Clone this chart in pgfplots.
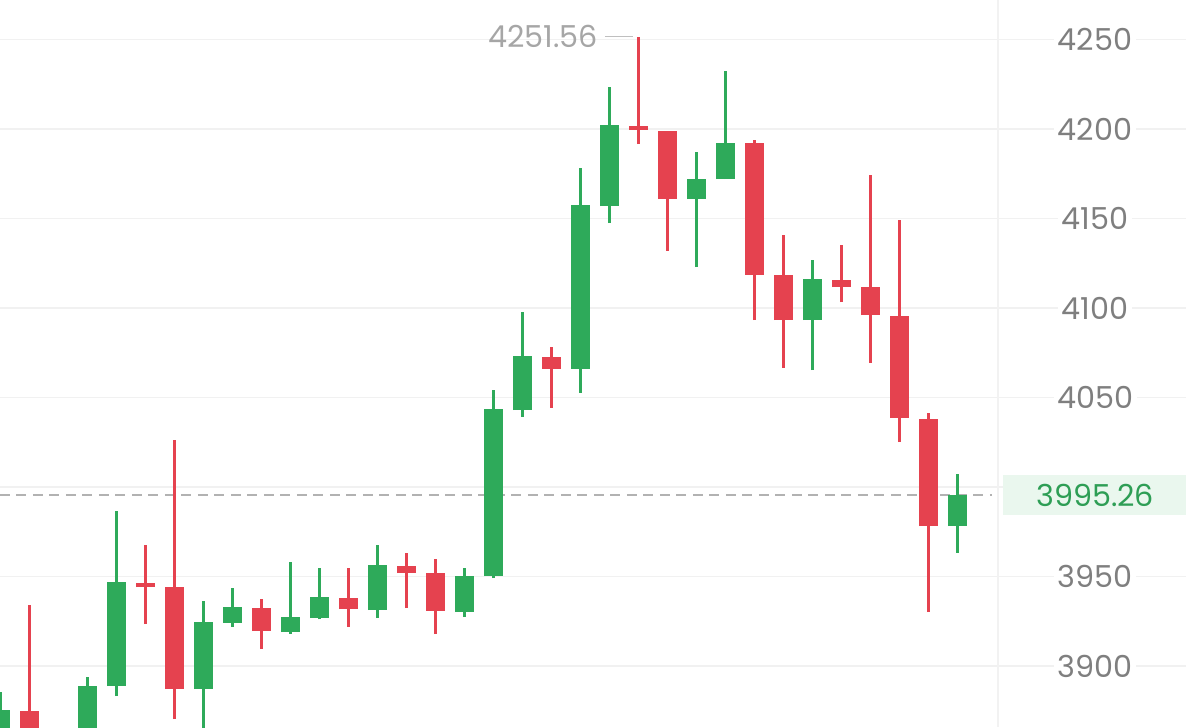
\documentclass[border=0pt]{standalone}
\usepackage{pgfplots}
\pgfplotsset{compat=1.18}
\usepackage{pgfplotstable}
\usepackage{fontspec}
\setmainfont{Poppins}
\definecolor{cUp}{HTML}{2EAA5A}
\definecolor{cDown}{HTML}{E5424F}
\definecolor{cGrid}{HTML}{F1F1F1}
\definecolor{cTick}{HTML}{7F7F7F}
\definecolor{cTagBg}{HTML}{EAF7EE}
\definecolor{cTag}{HTML}{2E9E55}

% candle index, open, high, low, close
\pgfplotstableread{
i  O       H       L       C
0  3850.0  3885.4  3840.0  3875.4
3  3855.0  3893.8  3850.0  3888.8
4  3888.8  3986.6  3883.2  3946.9
7  3887.1  3936.3  3860.0  3924.5
8  3924.0  3943.5  3921.8  3932.9
10 3918.9  3958.1  3918.0  3927.3
11 3926.7  3954.7  3926.0  3938.5
13 3931.2  3967.5  3926.7  3956.4
16 3930.1  3954.7  3927.3  3950.2
17 3950.2  4054.2  3949.1  4043.5
18 4042.9  4097.7  4039.1  4073.1
20 4065.9  4178.2  4052.5  4157.5
21 4156.9  4223.4  4147.4  4202.2
24 4160.8  4187.1  4122.8  4172.0
25 4172.0  4232.3  4172.0  4192.1
28 4093.2  4126.7  4065.3  4116.1
33 3978.1  4007.5  3963.1  3995.26
}\up

\pgfplotstableread{
i  O       H       L       C
1  3874.8  3934.0  3840.0  3850.0
2  3858.0  3862.0  3835.0  3848.0
5  3946.3  3967.5  3923.4  3944.1
6  3944.1  4026.2  3870.3  3887.1
9  3932.3  3937.4  3909.4  3919.5
12 3937.9  3954.7  3921.8  3931.8
14 3955.8  3963.1  3932.3  3951.9
15 3951.9  3959.8  3917.8  3930.7
19 4072.6  4078.2  4044.1  4065.9
22 4201.6  4251.56 4191.5  4199.4
23 4198.8  4199.0  4131.8  4160.8
26 4192.1  4193.8  4093.2  4118.4
27 4118.4  4140.7  4066.5  4093.2
29 4115.6  4135.1  4103.3  4111.6
30 4111.6  4174.2  4069.3  4096.0
31 4095.4  4149.1  4025.0  4038.4
32 4037.9  4041.3  3930.1  3978.1
}\down

% candles are drawn as error bars: thin ones for wicks, wide ones for bodies
\pgfplotsset{
  wick/.style={draw=none, mark=none,
    error bars/.cd, y dir=plus, y explicit, error mark=none,
    error bar style={line width=0.25mm, draw=#1, solid}},
  body/.style={draw=none, mark=none,
    error bars/.cd, y dir=plus, y explicit, error mark=none,
    error bar style={line width=1.9mm, draw=#1, solid}},
}

\begin{document}
\begin{tikzpicture}
\begin{axis}[
  scale only axis,
  width=11.86cm, height=7.27cm,
  xmin=-0.017, xmax=40.88,
  ymin=3865.9, ymax=4272.0,
  axis line style={draw=none},
  xtick=\empty,
  major tick length=0pt,
  ytick={3900,3950,4050,4100,4150,4200,4250},
  yticklabels={3900,3950,4050,4100,4150,4200,4250},
  extra y ticks={4000},
  extra y tick labels={},
  ymajorgrids=true,
  grid style={cGrid, line width=0.15mm},
  yticklabel pos=right,
  yticklabel style={anchor=center, xshift=-0.91cm, fill=white,
    inner sep=1pt, text=cTick, font=\fontsize{8.6}{10}\selectfont},
]

% faint separator between candles and price scale
\addplot[gray!10, line width=0.15mm] coordinates {(34.40,3865.9) (34.40,4272.0)};

% last price line
\addplot[color=black!30, line width=0.2mm, dash pattern=on 1mm off 0.65mm]
  coordinates {(-0.017,3995.26) (34.2,3995.26)};

% wicks
\addplot[wick=cUp]   table[x=i, y=L, y error plus expr=\thisrow{H}-\thisrow{L}] {\up};
\addplot[wick=cDown] table[x=i, y=L, y error plus expr=\thisrow{H}-\thisrow{L}] {\down};
% bodies
\addplot[body=cUp]   table[x=i, y=O, y error plus expr=\thisrow{C}-\thisrow{O}] {\up};
\addplot[body=cDown] table[x=i, y=C, y error plus expr=\thisrow{O}-\thisrow{C}] {\down};

% high marker
\addplot[black!25, line width=0.15mm] coordinates {(20.84,4251.56) (21.81,4251.56)};
\node[anchor=east, text=black!35, inner sep=0pt, font=\fontsize{8.6}{10}\selectfont]
  at (axis cs:20.62,4251.56) {4251.56};

% last price tag
\fill[cTagBg] (axis cs:34.57,3984.3) rectangle (axis cs:40.88,4006.6);
\node[text=cTag, inner sep=0pt, font=\fontsize{8.6}{10}\selectfont]
  at (axis cs:37.75,3995.26) {3995.26};
\end{axis}
\pgfresetboundingbox
\path[use as bounding box] (0,0) rectangle (11.86cm,7.27cm);
\end{tikzpicture}
\end{document}
